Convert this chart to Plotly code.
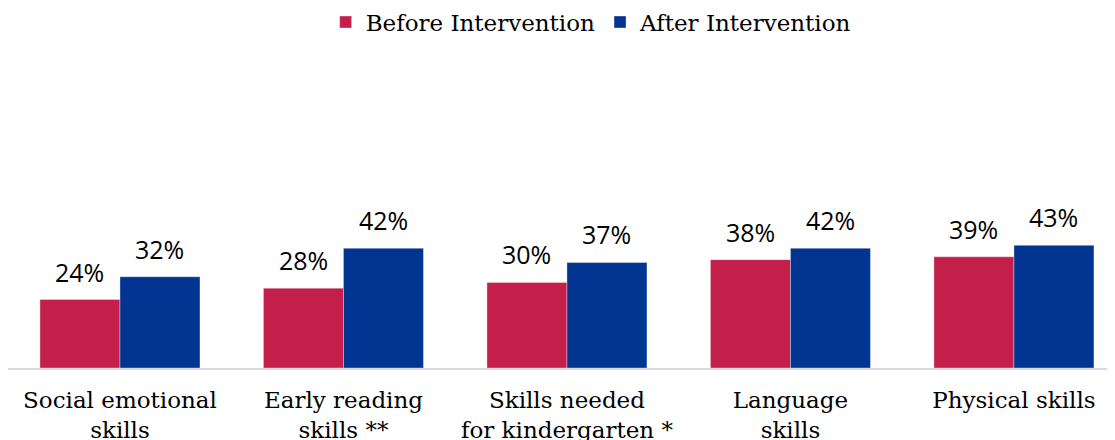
import plotly.graph_objects as go

categories = ["Social emotional<br>skills", "Early reading<br>skills **", "Skills needed<br>for kindergarten *", "Language<br>skills", "Physical skills"]
before = [24, 28, 30, 38, 39]
after = [32, 42, 37, 42, 43]
series_names = ["Before Intervention", "After Intervention"]
colors = ["#C41E4B", "#023592"]

serif = "DejaVu Serif"
sans = "Open Sans"
bargap = 0.284
half = (1 - bargap) / 4  # offset of each bar centre from category centre

fig = go.Figure()
for name, vals, col in zip(series_names, [before, after], colors):
    fig.add_trace(go.Bar(
        x=list(range(len(categories))), y=vals, name=name,
        marker=dict(color=col, line=dict(color="rgba(255,255,255,0.35)", width=1)),
    ))

for k, vals in enumerate([before, after]):
    off = -half if k == 0 else half
    for i, v in enumerate(vals):
        fig.add_annotation(x=i + off, y=v, xref="x", yref="y", text=f"{v}%",
                           showarrow=False, yanchor="bottom", yshift=9,
                           font=dict(family=sans, size=25, color="#000000"))

fig.update_layout(
    width=1115, height=440,
    margin=dict(l=0, r=0, t=52, b=80, autoexpand=False),
    paper_bgcolor="white", plot_bgcolor="white",
    barmode="group", bargap=bargap, bargroupgap=0,
    legend=dict(orientation="h", x=0.523, xanchor="center", y=0.968, yanchor="middle",
                yref="container",
                font=dict(family=serif, size=23, color="#000000"),
                itemwidth=30, traceorder="normal"),
    xaxis=dict(tickmode="array", tickvals=list(range(len(categories))), ticktext=categories,
               range=[-0.501, 4.488], showline=True, linecolor="#D9D9D9", linewidth=2,
               ticks="", showgrid=False, zeroline=False, ticklabelstandoff=10,
               automargin=False,
               tickfont=dict(family=serif, size=23, color="#000000")),
    yaxis=dict(range=[0, 108], visible=False, showgrid=False, zeroline=False),
)
fig.write_html("out.html")
